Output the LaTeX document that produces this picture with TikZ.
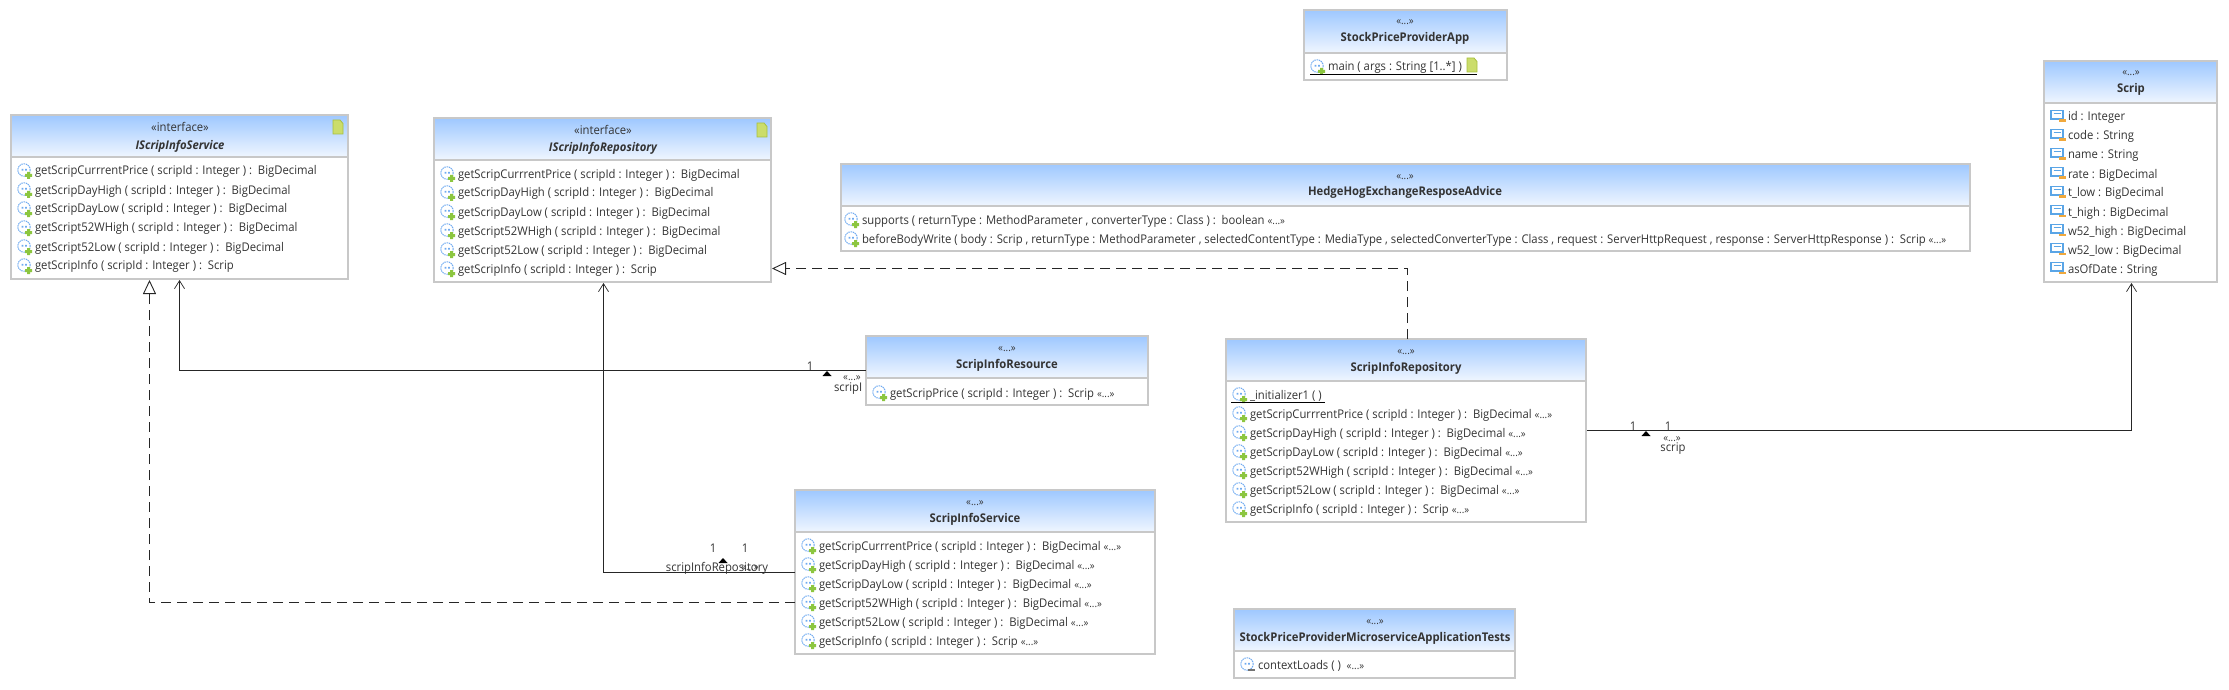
\documentclass[tikz,border=0pt]{standalone}
\usepackage{fontspec}
\setmainfont[FakeStretch=0.94]{Open Sans}
\usetikzlibrary{arrows.meta,calc,fit}
\definecolor{frameg}{HTML}{C8C8C8}
\definecolor{hdrtop}{HTML}{9EC8FF}
\definecolor{hdrbot}{HTML}{F0F6FF}
\definecolor{inkc}{HTML}{333333}
\definecolor{notef}{HTML}{CBDD6B}
\definecolor{notel}{HTML}{A8C040}
\definecolor{opblue}{HTML}{6FAAF0}
\definecolor{plusg}{HTML}{8CC640}
\definecolor{fieldb}{HTML}{5AA5E6}
\definecolor{fieldo}{HTML}{F0A83C}
\newcount\txtno
\newcommand\tnode{\global\advance\txtno by 1 \node}
\newcommand\stereo{{\fontsize{5.2}{6}\selectfont «...»}}
\tikzset{
  x=0.5pt,y=-0.5pt,
  classframe/.style={draw=frameg,line width=1pt,inner sep=0pt,outer sep=0pt,rectangle},
  rowtext/.style={anchor=base west,inner sep=0pt,outer sep=0pt,text=inkc,font=\fontsize{6}{7}\selectfont},
  lbl/.style={anchor=base,inner sep=0pt,outer sep=0pt,text=inkc,font=\fontsize{6}{7}\selectfont},
  titletext/.style={anchor=base,inner sep=0pt,outer sep=0pt,text=inkc,font=\fontsize{6}{7}\selectfont\bfseries},
  assoc/.style={draw=black!85,line width=.45pt,-{Straight Barb[length=4pt,width=5pt,line width=.35pt]}},
  realize/.style={draw=black!85,line width=.45pt,dash pattern=on 5pt off 3pt,-{Triangle[open,length=7pt,width=6.5pt,fill=white,line width=.45pt]}},
  opicon/.pic={
    \draw[opblue,line width=.5pt,dash pattern=on .7pt off .4pt] (0,0) circle[radius=6.2];
    \fill[opblue] (-2.5,-1.2) rectangle (-.7,.6) (1,-1.2) rectangle (2.8,.6);
    \fill[plusg] (3,2) rectangle (6,9) (1,4) rectangle (8,7);
  },
  testicon/.pic={
    \draw[opblue,line width=.5pt,dash pattern=on .7pt off .4pt] (0,0) circle[radius=6.2];
    \fill[opblue] (-2.5,-1.2) rectangle (-.7,.6) (1,-1.2) rectangle (2.8,.6);
    \fill[black!55] (1,5) rectangle (8,6.5);
  },
  fieldicon/.pic={
    \draw[fieldb,line width=.6pt,fill=white] (-7,-5.5) rectangle (5,3);
    \draw[fieldb,line width=.4pt] (-4.5,-2.5) -- (2.5,-2.5);
    \fill[fieldo] (1,3.5) rectangle (8,6);
  },
  noteicon/.pic={
    \draw[notel,fill=notef,line width=.4pt] (0,0) -- (7,0) -- (10,3.5) -- (10,14) -- (0,14) -- cycle;
  },
  tickmark/.pic={
    \fill[black] (0,0) -- (4.5,5) -- (-4.5,5) -- cycle;
  },
}
% name, x1, y1, x2, y2, header bottom
\newcommand\umlbox[6]{%
  \shade[top color=hdrtop,bottom color=hdrbot] (#2,#3) rectangle (#4,#6);
  \draw[frameg,line width=1pt] (#2,#6) -- (#4,#6);
  \node[classframe,fit={(#2,#3)(#4,#5)}] (#1) {};
}
\newcommand\head[4]{% centre x, top y, stereotype, title
  \tnode[lbl] (t\the\txtno) at (#1,#2+18) {#3};
  \tnode[titletext] (t\the\txtno) at (#1,#2+35) {#4};
}
\newcommand\meth[4][opicon]{% icon, box left, row y, text
  \pic at (#2+13,#3) {#1};
  \tnode[rowtext] (t\the\txtno) at (#2+24,#3+5) {#4};
}
\newcommand\fld[2]{\pic at (2058,#1) {fieldicon}; \tnode[rowtext] (t\the\txtno) at (2068,#1+5) {#2};}
\begin{document}
\begin{tikzpicture}
\useasboundingbox (0,0) rectangle (2229,690);

% ---------- classes
\umlbox{iservice}{11}{115}{348}{279}{157}
\head{180}{114}{«interface»}{\itshape IScripInfoService}
\pic at (333,120) {noteicon};
\meth{11}{170}{getScripCurrrentPrice ( scripId : Integer ) :\ \ BigDecimal}
\meth{11}{189}{getScripDayHigh ( scripId : Integer ) :\ \ BigDecimal}
\meth{11}{208}{getScripDayLow ( scripId : Integer ) :\ \ BigDecimal}
\meth{11}{227}{getScript52WHigh ( scripId : Integer ) :\ \ BigDecimal}
\meth{11}{246}{getScript52Low ( scripId : Integer ) :\ \ BigDecimal}
\meth{11}{265}{getScripInfo ( scripId : Integer ) :\ \ Scrip}

\umlbox{irepo}{434}{118}{771}{282}{160}
\head{603}{117}{«interface»}{\itshape IScripInfoRepository}
\pic at (757,123) {noteicon};
\meth{434}{173}{getScripCurrrentPrice ( scripId : Integer ) :\ \ BigDecimal}
\meth{434}{192}{getScripDayHigh ( scripId : Integer ) :\ \ BigDecimal}
\meth{434}{211}{getScripDayLow ( scripId : Integer ) :\ \ BigDecimal}
\meth{434}{230}{getScript52WHigh ( scripId : Integer ) :\ \ BigDecimal}
\meth{434}{249}{getScript52Low ( scripId : Integer ) :\ \ BigDecimal}
\meth{434}{268}{getScripInfo ( scripId : Integer ) :\ \ Scrip}

\umlbox{app}{1304}{10}{1507}{80}{53}
\head{1405}{7}{\stereo}{StockPriceProviderApp}
\meth{1304}{66}{main ( args : String [1..*] )}
\pic at (1467,58) {noteicon};
\draw[black,line width=.5pt] (1310,74.5) -- (1477,74.5);

\umlbox{advice}{841}{164}{1970}{251}{206}
\head{1405}{161}{\stereo}{HedgeHogExchangeResposeAdvice}
\meth{838}{219}{supports ( returnType : MethodParameter , converterType : Class ) :\ \ boolean \stereo}
\meth{838}{238}{beforeBodyWrite ( body : Scrip , returnType : MethodParameter , selectedContentType : MediaType , selectedConverterType : Class , request : ServerHttpRequest , response : ServerHttpResponse ) :\ \ Scrip \stereo}

\umlbox{scrip}{2044}{61}{2217}{282}{103}
\head{2131}{58}{\stereo}{Scrip}
\fld{116}{id : Integer}
\fld{135}{code : String}
\fld{154}{name : String}
\fld{173}{rate : BigDecimal}
\fld{192}{t\_low : BigDecimal}
\fld{211}{t\_high : BigDecimal}
\fld{230}{w52\_high : BigDecimal}
\fld{249}{w52\_low : BigDecimal}
\fld{268}{asOfDate : String}

\umlbox{resource}{866}{336}{1148}{405}{378}
\head{1007}{333}{\stereo}{ScripInfoResource}
\meth{866}{392}{getScripPrice ( scripId : Integer ) :\ \ Scrip \stereo}

\umlbox{repo}{1226}{339}{1586}{522}{381}
\head{1406}{336}{\stereo}{ScripInfoRepository}
\meth{1226}{394}{\_initializer1 ( )}
\draw[black,line width=.5pt] (1231,402.5) -- (1325,402.5);
\meth{1226}{413}{getScripCurrrentPrice ( scripId : Integer ) :\ \ BigDecimal \stereo}
\meth{1226}{432}{getScripDayHigh ( scripId : Integer ) :\ \ BigDecimal \stereo}
\meth{1226}{451}{getScripDayLow ( scripId : Integer ) :\ \ BigDecimal \stereo}
\meth{1226}{470}{getScript52WHigh ( scripId : Integer ) :\ \ BigDecimal \stereo}
\meth{1226}{489}{getScript52Low ( scripId : Integer ) :\ \ BigDecimal \stereo}
\meth{1226}{508}{getScripInfo ( scripId : Integer ) :\ \ Scrip \stereo}

\umlbox{service}{795}{490}{1155}{654}{532}
\head{975}{487}{\stereo}{ScripInfoService}
\meth{795}{545}{getScripCurrrentPrice ( scripId : Integer ) :\ \ BigDecimal \stereo}
\meth{795}{564}{getScripDayHigh ( scripId : Integer ) :\ \ BigDecimal \stereo}
\meth{795}{583}{getScripDayLow ( scripId : Integer ) :\ \ BigDecimal \stereo}
\meth{795}{602}{getScript52WHigh ( scripId : Integer ) :\ \ BigDecimal \stereo}
\meth{795}{621}{getScript52Low ( scripId : Integer ) :\ \ BigDecimal \stereo}
\meth{795}{640}{getScripInfo ( scripId : Integer ) :\ \ Scrip \stereo}

\umlbox{tests}{1234}{609}{1515}{678}{651}
\head{1375}{606}{\stereo}{StockPriceProviderMicroserviceApplicationTests}
\meth[testicon]{1234}{664}{contextLoads ( )\ \ \stereo}

% ---------- connectors
\draw[realize] ($(service.north west)+(0,112.5)$) -| ($(iservice.south west)+(138.5,1)$);
\draw[realize] ($(repo.north west)+(181.5,0)$) |- ($(irepo.north east)+(1,150.5)$);
\draw[assoc] ($(service.north west)+(0,82.5)$) -| ($(irepo.south west)+(169.5,1)$);
\draw[assoc] ($(resource.north west)+(0,34.5)$) -| ($(iservice.south west)+(168.5,1)$);
\draw[assoc] ($(repo.north east)+(1,91.5)$) -| ($(scrip.south west)+(87.5,1)$);

% ---------- association labels
\tnode[lbl] (t\the\txtno) at (810,370) {1};
\pic at (827,371) {tickmark};
\tnode[lbl] (t\the\txtno) at (852,380) {\stereo};
\tnode[rowtext] (t\the\txtno) at (834,391) {scripI};

\tnode[lbl] (t\the\txtno) at (713,552) {1};
\tnode[lbl] (t\the\txtno) at (745,552) {1};
\pic at (723,558) {tickmark};
\tnode[lbl] (t\the\txtno) at (750,570) {\stereo};
\tnode[lbl] (t\the\txtno) at (717,571) {scripInfoRepository};

\tnode[lbl] (t\the\txtno) at (1633,430) {1};
\tnode[lbl] (t\the\txtno) at (1668,430) {1};
\pic at (1646,431) {tickmark};
\tnode[lbl] (t\the\txtno) at (1672,441) {\stereo};
\tnode[lbl] (t\the\txtno) at (1673,451) {scrip};
\end{tikzpicture}
\end{document}
